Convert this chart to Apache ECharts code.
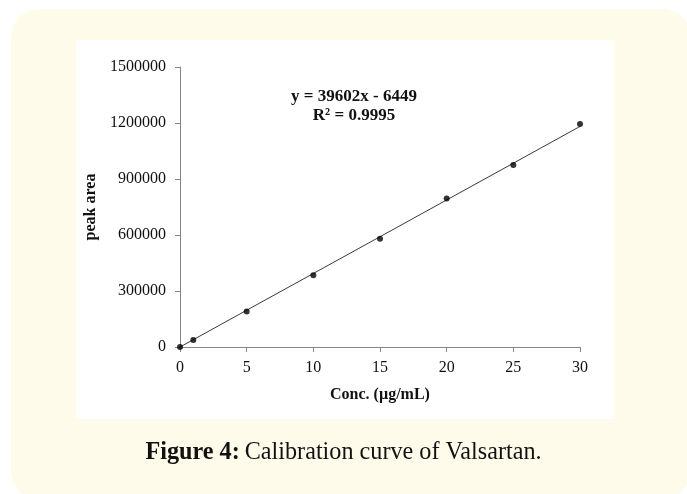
<!DOCTYPE html>
<html>
<head>
<meta charset="utf-8">
<script src="https://cdn.jsdelivr.net/npm/echarts@6/dist/echarts.min.js"></script>
<style>
  html, body { margin: 0; padding: 0; background: #ffffff; }
  #wrap { position: relative; width: 687px; height: 494px; overflow: hidden; background: #ffffff; }
  #cream { position: absolute; left: 11px; top: 9px; width: 680px; height: 490px; border-radius: 28px; background: #fffbea; }
  #white { position: absolute; left: 76px; top: 40px; width: 538px; height: 379px; background: #ffffff; }
  #chart { position: absolute; left: 0; top: 0; width: 687px; height: 494px; }
</style>
</head>
<body>
<div id="wrap">
  <div id="cream"></div>
  <div id="white"></div>
  <div id="chart"></div>
</div>
<script>
// Data
const concentrations = [0, 1, 5, 10, 15, 20, 25, 30];
const peakAreas = [0, 38000, 190000, 385000, 580000, 795000, 975000, 1195000];
// Trendline as printed on the chart: y = 39602x - 6449
const slope = 39602;
const intercept = -6449;
const trendX = [0, 30];
const xTicks = { min: 0, max: 30, interval: 5 };
const yTicks = { min: 0, max: 1500000, interval: 300000 };

const scatterData = concentrations.map((c, i) => [c, peakAreas[i]]);
const trendData = trendX.map(x => [x, Math.max(0, slope * x + intercept)]);

const serif = '"Liberation Serif", "Times New Roman", serif';
const axisGray = '#868686';

const chart = echarts.init(document.getElementById('chart'), null, { renderer: 'canvas' });
chart.setOption({
  backgroundColor: 'transparent',
  animation: false,
  title: {
    text: '{b|Figure 4:} {n|Calibration curve of Valsartan.}',
    left: 'center',
    top: 436,
    textStyle: {
      rich: {
        b: { fontFamily: serif, fontSize: 24.2, fontWeight: 'bold', color: '#111' },
        n: { fontFamily: serif, fontSize: 24.2, fontWeight: 'normal', color: '#111' }
      }
    }
  },
  grid: { left: 180, right: 107, top: 67, bottom: 147, containLabel: false },
  xAxis: {
    type: 'value',
    min: xTicks.min, max: xTicks.max, interval: xTicks.interval,
    name: 'Conc. (µg/mL)',
    nameLocation: 'middle',
    nameGap: 40,
    nameTextStyle: { fontFamily: serif, fontSize: 16, fontWeight: 'bold', color: '#111' },
    axisLine: { show: true, onZero: false, lineStyle: { color: axisGray, width: 1 } },
    axisTick: { show: true, inside: false, length: 5, lineStyle: { color: axisGray } },
    axisLabel: { fontFamily: serif, fontSize: 16, color: '#111', margin: 13 },
    splitLine: { show: false }
  },
  yAxis: {
    type: 'value',
    min: yTicks.min, max: yTicks.max, interval: yTicks.interval,
    name: 'peak area',
    nameLocation: 'middle',
    nameGap: 76,
    nameRotate: 90,
    nameTextStyle: { fontFamily: serif, fontSize: 16, fontWeight: 'bold', color: '#111' },
    axisLine: { show: true, lineStyle: { color: axisGray, width: 1 } },
    axisTick: { show: true, inside: false, length: 5, lineStyle: { color: axisGray } },
    axisLabel: { fontFamily: serif, fontSize: 16, color: '#111', margin: 14, formatter: v => String(v) },
    splitLine: { show: false }
  },
  graphic: [
    {
      type: 'text',
      x: 354,
      y: 87,
      style: {
        text: 'y = 39602x - 6449\nR² = 0.9995',
        font: 'bold 17px "Liberation Serif", serif',
        fill: '#111',
        align: 'center',
        verticalAlign: 'top',
        lineHeight: 19
      }
    }
  ],
  series: [
    {
      type: 'line',
      data: trendData,
      symbol: 'none',
      lineStyle: { color: '#3a3a3a', width: 1 },
      z: 2,
      silent: true
    },
    {
      type: 'scatter',
      data: scatterData,
      symbol: 'circle',
      symbolSize: 6,
      itemStyle: { color: '#000' },
      z: 3
    }
  ]
});
</script>
</body>
</html>
